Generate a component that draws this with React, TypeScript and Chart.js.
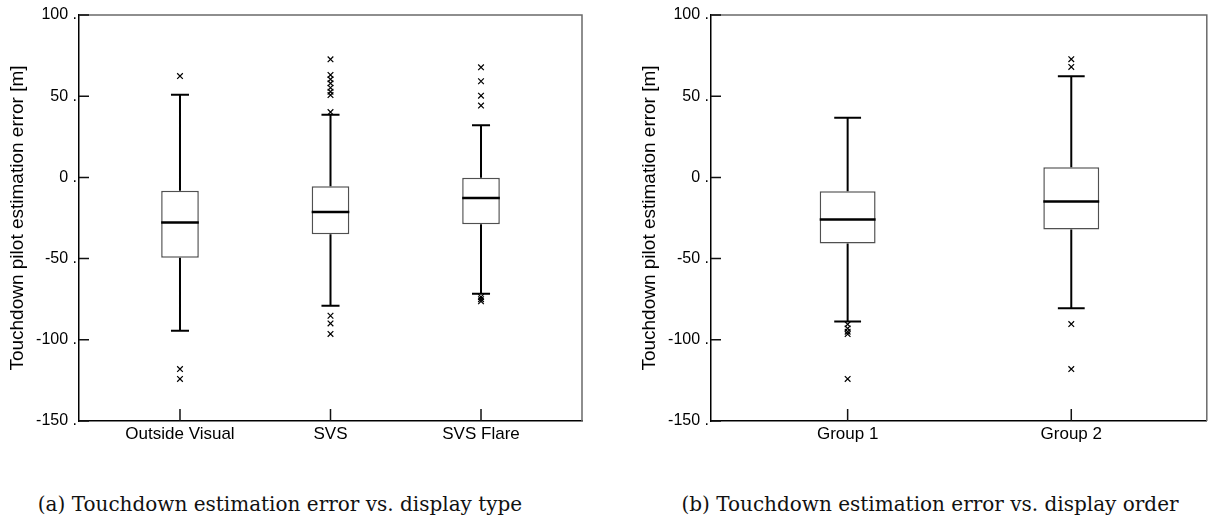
import React, { useEffect, useRef } from "react";
import { Chart, registerables } from "chart.js";

Chart.register(...registerables);

// ---------- Chart (a): display type ----------
const categoriesA = ["Outside Visual", "SVS", "SVS Flare"];
const lowerWhiskerA = [-94.4, -79, -71.6];
const q1A = [-49.4, -35, -28.9];
const medianA = [-27.7, -21.3, -12.7];
const q3A = [-8.2, -5.5, -0.2];
const upperWhiskerA = [50.9, 38.6, 32.1];
const outliersA = [
  [62.4, -118, -124.1],
  [72.7, 63.1, 60.4, 57.9, 55.2, 52.8, 50.7, 40.2, -85.2, -89.9, -96.4],
  [67.8, 59.2, 50.3, 44.2, -73.6, -75, -76.3],
];

// ---------- Chart (b): display order ----------
const categoriesB = ["Group 1", "Group 2"];
const lowerWhiskerB = [-88.7, -80.5];
const q1B = [-40.7, -32.1];
const medianB = [-26, -14.9];
const q3B = [-8.6, 6.2];
const upperWhiskerB = [36.7, 62.3];
const outliersB = [
  [-90.5, -93, -95, -96.5, -124.1],
  [72.8, 68, -90.3, -118],
];

// ---------- Axis ----------
const yTicks = [100, 50, 0, -50, -100, -150];
const yTitle = "Touchdown pilot estimation error [m]";
const captionA = "(a) Touchdown estimation error vs. display type";
const captionB = "(b) Touchdown estimation error vs. display order";

const BOX_WIDTH = 0.25; // in category units
const CAP_WIDTH = 0.12;

const framePlugin = {
  id: "frame",
  afterDraw(chart: any) {
    const { ctx, chartArea: a, scales } = chart;
    const x = scales.x;
    const y = scales.y;
    ctx.save();
    ctx.strokeStyle = "#6a6a6a";
    ctx.lineWidth = 1.5;
    ctx.beginPath();
    ctx.moveTo(a.left, a.top);
    ctx.lineTo(a.right, a.top);
    ctx.lineTo(a.right, a.bottom);
    ctx.stroke();
    ctx.strokeStyle = "#111";
    ctx.lineWidth = 1.5;
    ctx.beginPath();
    y.ticks.forEach((t: any) => {
      const py = y.getPixelForValue(t.value);
      ctx.moveTo(a.left, py);
      ctx.lineTo(a.left + 10, py);
    });
    x.ticks.forEach((t: any) => {
      const px = x.getPixelForValue(t.value);
      ctx.moveTo(px, a.bottom);
      ctx.lineTo(px, a.bottom - 12);
    });
    ctx.stroke();
    ctx.restore();
  },
};

function buildConfig(
  cats: string[],
  lo: number[],
  q1: number[],
  med: number[],
  q3: number[],
  hi: number[],
  outs: number[][],
  xMin: number,
  xMax: number,
  padding: any
): any {
  const pos = cats.map((_, i) => i + 1);
  const whiskers: any[] = [];
  const medians: any[] = [];
  const outlierPts: any[] = [];
  pos.forEach((p, i) => {
    whiskers.push({ x: p, y: lo[i] }, { x: p, y: q1[i] }, { x: p, y: null });
    whiskers.push({ x: p, y: q3[i] }, { x: p, y: hi[i] }, { x: p, y: null });
    whiskers.push({ x: p - CAP_WIDTH / 2, y: hi[i] }, { x: p + CAP_WIDTH / 2, y: hi[i] }, { x: p, y: null });
    whiskers.push({ x: p - CAP_WIDTH / 2, y: lo[i] }, { x: p + CAP_WIDTH / 2, y: lo[i] }, { x: p, y: null });
    medians.push({ x: p - BOX_WIDTH / 2, y: med[i] }, { x: p + BOX_WIDTH / 2, y: med[i] }, { x: p, y: null });
    outs[i].forEach((v) => outlierPts.push({ x: p, y: v }));
  });

  return {
    type: "bar",
    data: {
      datasets: [
        {
          type: "bar",
          label: "box",
          data: pos.map((p, i) => ({ x: p, y: [q1[i], q3[i]] })),
          backgroundColor: "#ffffff",
          borderColor: "#505050",
          borderWidth: 1.5,
          borderSkipped: false,
          barPercentage: BOX_WIDTH,
          categoryPercentage: 1,
          order: 3,
        },
        {
          type: "line",
          label: "whiskers",
          data: whiskers,
          borderColor: "#000",
          borderWidth: 2,
          pointRadius: 0,
          spanGaps: false,
          fill: false,
          tension: 0,
          order: 2,
        },
        {
          type: "line",
          label: "median",
          data: medians,
          borderColor: "#000",
          borderWidth: 2.5,
          pointRadius: 0,
          spanGaps: false,
          fill: false,
          tension: 0,
          order: 1,
        },
        {
          type: "scatter",
          label: "outliers",
          data: outlierPts,
          pointStyle: "crossRot",
          pointRadius: 4,
          borderColor: "#000",
          borderWidth: 1.2,
          backgroundColor: "#000",
          order: 0,
        },
      ],
    },
    options: {
      responsive: false,
      maintainAspectRatio: false,
      animation: false,
      devicePixelRatio: 1,
      layout: { padding },
      plugins: {
        legend: { display: false },
        tooltip: { enabled: false },
        title: { display: false },
      },
      scales: {
        x: {
          type: "linear",
          offset: false,
          min: xMin,
          max: xMax,
          afterBuildTicks: (s: any) => {
            s.ticks = pos.map((v) => ({ value: v }));
          },
          afterFit: (s: any) => {
            s.height = 49;
          },
          ticks: {
            autoSkip: false,
            maxRotation: 0,
            padding: 3,
            color: "#000",
            font: { family: "Liberation Sans", size: 17 },
            callback: (v: any) => cats[Math.round(v) - 1] ?? "",
          },
          grid: { display: false, drawTicks: false, offset: false },
          border: { display: true, color: "#000", width: 1.5 },
        },
        y: {
          type: "linear",
          min: Math.min(...yTicks),
          max: Math.max(...yTicks),
          afterBuildTicks: (s: any) => {
            s.ticks = yTicks.map((v) => ({ value: v }));
          },
          afterFit: (s: any) => {
            s.width = 79;
          },
          ticks: {
            padding: 2,
            color: "#000",
            font: { family: "Liberation Sans", size: 16 },
            callback: (v: any) => `${v} .`,
          },
          grid: { display: false, drawTicks: false },
          border: { display: true, color: "#000", width: 1.5 },
          title: {
            display: true,
            text: yTitle,
            color: "#000",
            font: { family: "Liberation Sans", size: 19 },
            padding: { top: 6, bottom: 0 },
          },
        },
      },
    },
    plugins: [framePlugin],
  };
}

function BoxChart(props: { config: any; width: number; height: number; left: number }) {
  const ref = useRef<HTMLCanvasElement | null>(null);
  useEffect(() => {
    if (!ref.current) return;
    const chart = new Chart(ref.current, props.config);
    return () => chart.destroy();
  }, []);
  return (
    <canvas
      ref={ref}
      width={props.width}
      height={props.height}
      style={{ position: "absolute", left: props.left, top: 0, width: props.width, height: props.height }}
    />
  );
}

const captionStyle: React.CSSProperties = {
  position: "absolute",
  top: 492,
  width: 560,
  textAlign: "center",
  fontFamily: "'DejaVu Serif', serif",
  fontSize: 20,
  lineHeight: "24px",
  color: "#111",
  whiteSpace: "nowrap",
};

export default function App() {
  const configA = buildConfig(
    categoriesA, lowerWhiskerA, q1A, medianA, q3A, upperWhiskerA, outliersA,
    0.329, 3.671, { left: 0, right: 18, top: 15, bottom: 0 }
  );
  const configB = buildConfig(
    categoriesB, lowerWhiskerB, q1B, medianB, q3B, upperWhiskerB, outliersB,
    0.389, 2.606, { left: 32, right: 0, top: 15, bottom: 0 }
  );
  return (
    <div
      style={{
        position: "absolute",
        left: 0,
        top: 0,
        width: 1212,
        height: 528,
        overflow: "hidden",
        background: "#fff",
      }}
    >
      <BoxChart config={configA} width={600} height={470} left={0} />
      <BoxChart config={configB} width={612} height={470} left={600} />
      <div style={{ ...captionStyle, left: 0 }}>{captionA}</div>
      <div style={{ ...captionStyle, left: 650 }}>{captionB}</div>
    </div>
  );
}
